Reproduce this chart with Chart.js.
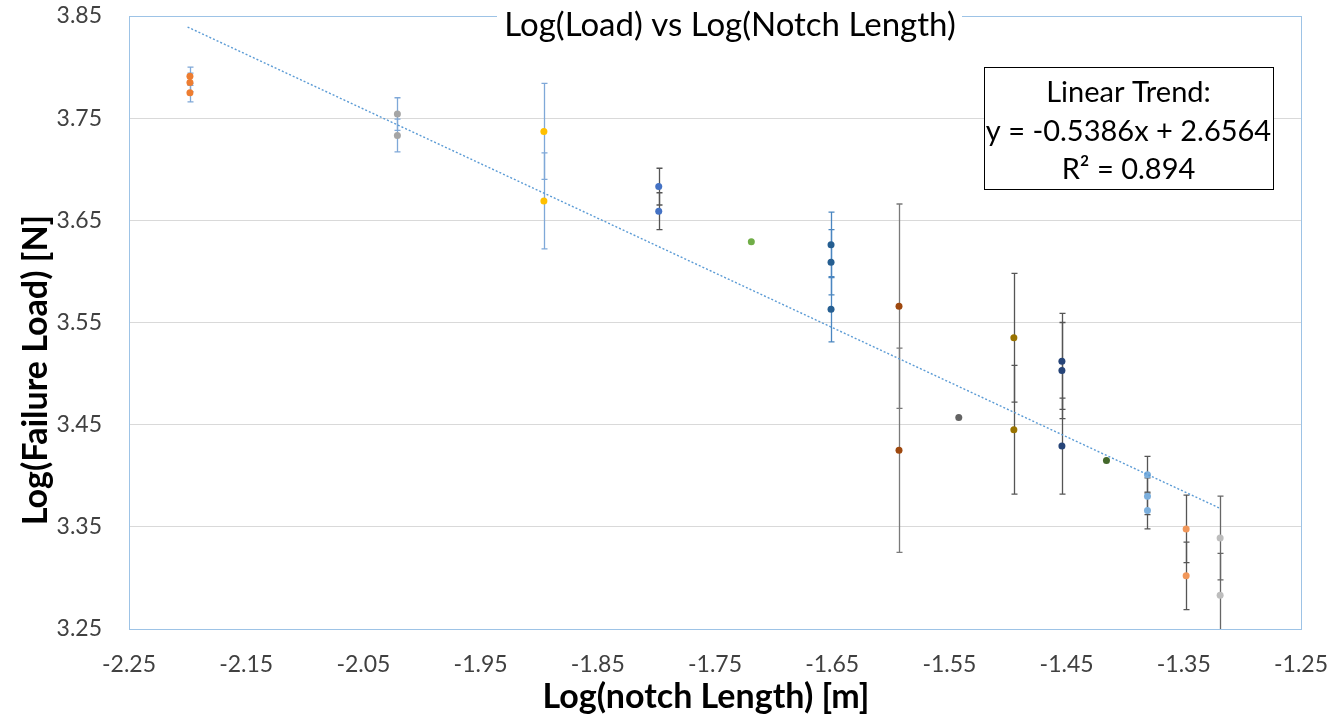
<!DOCTYPE html>
<html>
<head>
<meta charset="utf-8">
<script src="https://cdn.jsdelivr.net/npm/chart.js@4"></script>
<style>
  body { margin: 0; background: #fff; }
  #wrap { width: 1332px; height: 718px; }
</style>
</head>
<body>
<div id="wrap"><canvas id="chart" width="1332" height="718"></canvas></div>
<script>
// log10 of notch length for each specimen group
const groupX = [-2.198, -2.021, -1.896, -1.798, -1.719, -1.651, -1.593, -1.542, -1.495, -1.454, -1.416, -1.381, -1.348, -1.319];
// log10 failure load values in each group
const groupY = [
    [3.791, 3.785, 3.775],
    [3.754, 3.733],
    [3.737, 3.669],
    [3.683, 3.659],
    [3.629],
    [3.626, 3.609, 3.563],
    [3.566, 3.425],
    [3.457],
    [3.535, 3.445],
    [3.512, 3.503, 3.429],
    [3.415],
    [3.401, 3.380, 3.366],
    [3.348, 3.302],
    [3.339, 3.283]
];
// +/- error bar size per group (0 = none)
const groupErr = [0.009, 0.016, 0.047, 0.018, 0, 0.032, 0.1, 0, 0.063, 0.047, 0, 0.018, 0.033, 0.041];

// trend line ends
const trendX = [-2.2, -1.32];
const trendY = [3.8392, 3.3686];
const trendText = ["Linear Trend:", "y = -0.5386x + 2.6564", "R² = 0.894"];

const xTicks = [-2.25, -1.25];
const yTicks = [3.25, 3.85];

const dotColors = ["#ED7D31", "#A5A5A5", "#FFC000", "#4472C4", "#70AD47", "#255E91", "#9E480E",
    "#636363", "#997300", "#264478", "#43682B", "#7CAFDD", "#F1975A", "#BDBDBD"];
const errColors = ["#7FA8D8", "#7FA8D8", "#7FA8D8", "#555555", "#555555", "#4A86C0", "#7a7a7a",
    "#555555", "#555555", "#555555", "#555555", "#555555", "#555555", "#666666"];

const FONT = "Lato, 'Open Sans', sans-serif";

let datasets = groupX.map((x, i) => ({
    label: "g" + i,
    data: groupY[i].map(y => ({ x: x, y: y })),
    backgroundColor: dotColors[i],
    borderColor: dotColors[i],
    pointRadius: 3.5,
    pointBorderWidth: 0,
    errBar: groupErr[i],
    errColor: errColors[i]
}));

datasets.unshift({
    label: "trend",
    data: trendX.map((x, i) => ({ x: x, y: trendY[i] })),
    showLine: true,
    borderColor: "#5B9BD5",
    borderWidth: 1.4,
    borderDash: [2, 2],
    pointRadius: 0,
    fill: false
});

const errorBars = {
    id: "errorBars",
    beforeDatasetsDraw(c) {
        const ctx = c.ctx, a = c.chartArea;
        const xs = c.scales.x, ys = c.scales.y;
        ctx.save();
        ctx.beginPath();
        ctx.rect(a.left, a.top, a.right - a.left, a.bottom - a.top + 1);
        ctx.clip();
        c.data.datasets.forEach(ds => {
            if (!ds.errBar) return;
            ctx.strokeStyle = ds.errColor;
            ctx.lineWidth = 1.3;
            ds.data.forEach(p => {
                let px = Math.round(xs.getPixelForValue(p.x)) + 0.5;
                let top = ys.getPixelForValue(p.y + ds.errBar);
                let bot = ys.getPixelForValue(p.y - ds.errBar);
                ctx.beginPath();
                ctx.moveTo(px, top); ctx.lineTo(px, bot);
                ctx.moveTo(px - 3, top); ctx.lineTo(px + 3, top);
                ctx.moveTo(px - 3, bot); ctx.lineTo(px + 3, bot);
                ctx.stroke();
            });
        });
        ctx.restore();
    }
};

const decor = {
    id: "decor",
    beforeDatasetsDraw(c) {
        const ctx = c.ctx, a = c.chartArea;
        ctx.save();
        ctx.strokeStyle = "#9DC3E6";
        ctx.lineWidth = 1;
        ctx.strokeRect(a.left + 0.5, a.top + 0.5, a.right - a.left, a.bottom - a.top);
        ctx.restore();
    },
    afterDraw(c) {
        const ctx = c.ctx;
        ctx.save();
        // title sits over the top border
        ctx.fillStyle = "#fff";
        ctx.fillRect(497, 2, 465, 34);
        ctx.fillStyle = "#000";
        ctx.textAlign = "center";
        ctx.textBaseline = "middle";
        ctx.font = "33px " + FONT;
        ctx.fillText("Log(Load) vs Log(Notch Length)", 730, 25);

        // trend box
        ctx.fillStyle = "#fff";
        ctx.fillRect(984, 67, 289, 122);
        ctx.strokeStyle = "#000";
        ctx.lineWidth = 1;
        ctx.strokeRect(984.5, 67.5, 289, 122);
        ctx.fillStyle = "#000";
        ctx.font = "29px " + FONT;
        trendText.forEach((s, i) => ctx.fillText(s, 1128.5, 93 + i * 38.5));

        // axis titles
        ctx.font = "bold 34px " + FONT;
        ctx.fillText("Log(notch Length) [m]", 706, 697);
        ctx.translate(36, 370);
        ctx.rotate(-Math.PI / 2);
        ctx.fillText("Log(Failure Load) [N]", 0, 0);
        ctx.restore();
    }
};

new Chart(document.getElementById("chart"), {
    type: "scatter",
    data: { datasets: datasets },
    options: {
        responsive: false,
        animation: false,
        layout: { padding: { top: 16, right: 31, left: 0, bottom: 0 } },
        plugins: { legend: { display: false }, tooltip: { enabled: false } },
        scales: {
            x: {
                type: "linear",
                min: xTicks[0], max: xTicks[1],
                border: { display: false },
                grid: { display: true, color: "transparent", drawOnChartArea: false, drawTicks: true, tickLength: 20, tickColor: "transparent" },
                ticks: {
                    stepSize: 0.1, autoSkip: false, maxRotation: 0, padding: 2,
                    color: "#404040", font: { family: FONT, size: 23 },
                    callback: v => v.toFixed(2)
                },
                afterFit: s => { s.height = 89; }
            },
            y: {
                min: yTicks[0], max: yTicks[1],
                border: { display: false },
                grid: { color: "#D9D9D9", drawTicks: true, tickLength: 25, tickColor: "transparent" },
                ticks: {
                    stepSize: 0.1, padding: 2,
                    color: "#404040", font: { family: FONT, size: 23 },
                    callback: v => v.toFixed(2)
                },
                afterFit: s => { s.width = 129; }
            }
        }
    },
    plugins: [errorBars, decor]
});
</script>
</body>
</html>
